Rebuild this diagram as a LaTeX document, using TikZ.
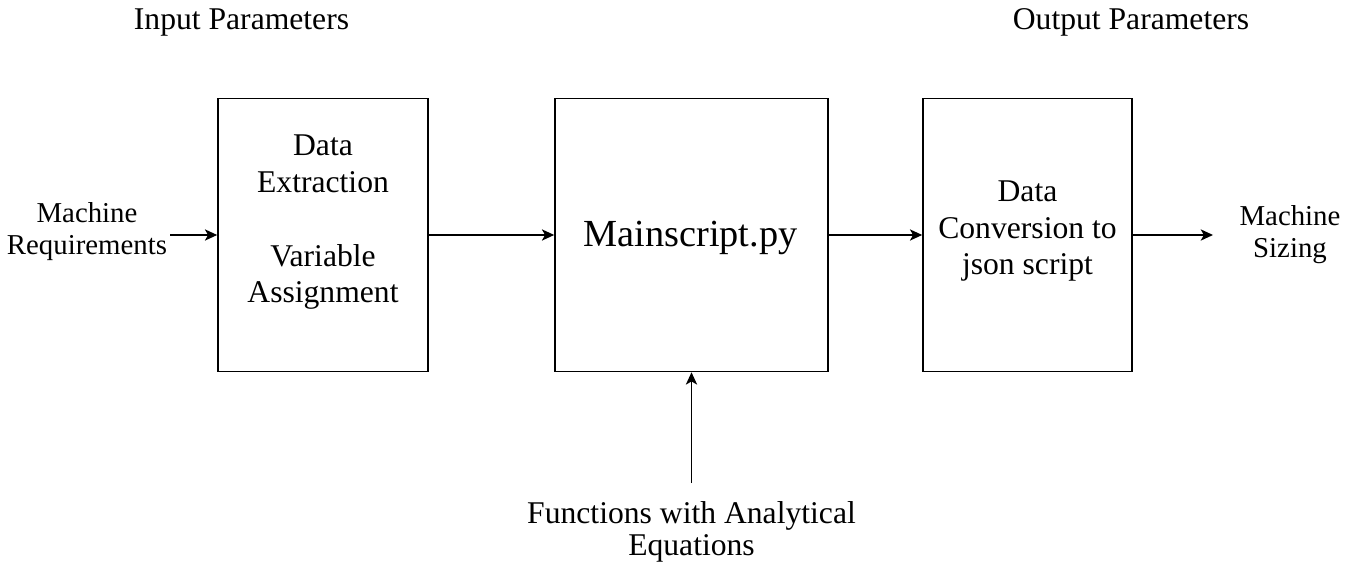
\documentclass[tikz,border=0pt]{standalone}
\usepackage{fontspec}
\setmainfont{Liberation Serif}
\usetikzlibrary{arrows.meta}

\tikzset{
  blk/.style={draw, line width=0.9pt, minimum height=273*0.2mm, inner sep=0pt},
  txt/.style={inner sep=0pt, align=center, anchor=base,
    font=\fontsize{18}{21}\selectfont},
  side/.style={inner sep=0pt, align=center, anchor=base,
    font=\fontsize{16.4}{18.3}\selectfont},
  flow/.style={line width=0.85pt, -{Stealth[length=7pt,width=6.4pt,inset=1.8pt]}},
}

\begin{document}
\begin{tikzpicture}[x=0.2mm, y=-0.2mm]
  \useasboundingbox (0,0) rectangle (1350,570);

  % headings
  \node[txt] (inhead)  at (241.5,30) {Input Parameters};
  \node[txt] (outhead) at (1131,30)  {Output Parameters};

  % processing blocks
  \node[blk, minimum width=210*0.2mm] (extract) at (323,235)   {};
  \node[blk, minimum width=273*0.2mm] (mainpy)  at (691.5,235) {};
  \node[blk, minimum width=209*0.2mm] (convert) at (1027.5,235) {};

  % block texts (placed by the baseline of their last line)
  \node[txt] (extracttxt) at (323,303) {Data\\Extraction\\[21pt]Variable\\Assignment};
  \node[txt, font=\fontsize{21.8}{26}\selectfont] (maintxt) at (690.5,247) {Mainscript.py};
  \node[txt] (converttxt) at (1027.5,275) {Data\\Conversion to\\json script};

  % inputs and outputs
  \node[side] (req)    at (87,255)   {Machine\\Requirements};
  \node[side] (sizing) at (1290,258) {Machine\\Sizing};
  \node[txt, font=\fontsize{18}{18}\selectfont] (funcs) at (691.5,555)
       {Functions with Analytical\\Equations};

  \coordinate (reqend)   at (170,235);
  \coordinate (sizeend)  at (1213,235);
  \coordinate (funcend)  at (691.5,483);

  % connectors
  \draw[flow] (reqend) -- (extract.west);
  \draw[flow] (extract.east) -- (mainpy.west);
  \draw[flow] (mainpy.east) -- (convert.west);
  \draw[flow] (convert.east) -- (sizeend);
  \draw[flow] (funcend) -- (mainpy.south);
\end{tikzpicture}
\end{document}
